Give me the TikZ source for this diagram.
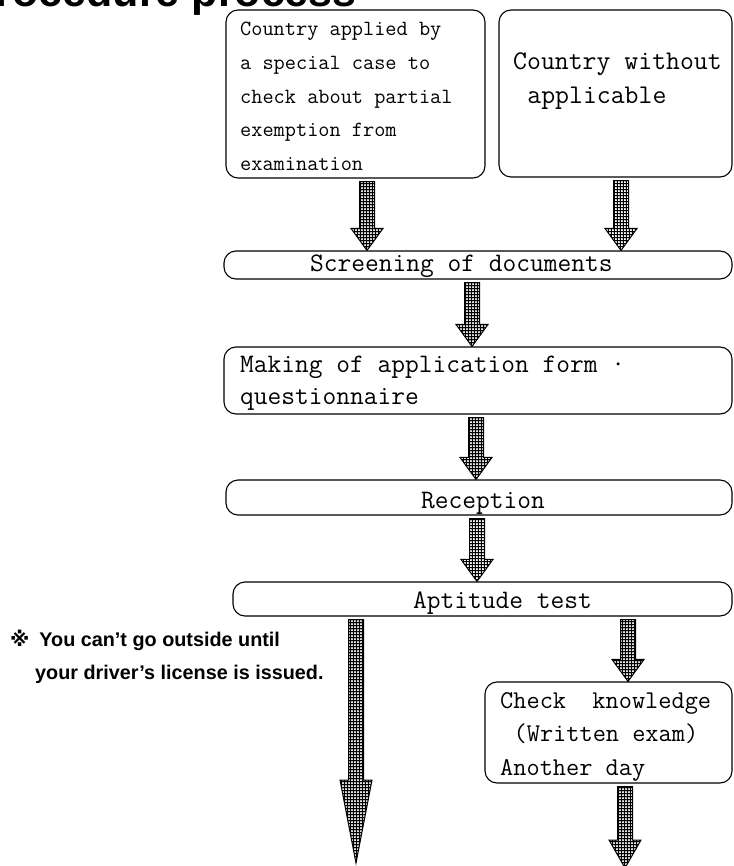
\documentclass[tikz,border=0pt]{standalone}
\usepackage{fontspec}
\newfontfamily\gothic{Liberation Sans}
\newfontfamily\refmark{DejaVu Sans}
\usetikzlibrary{calc,patterns.meta}

\tikzdeclarepattern{
	name=mesh,
	type=uncolored,
	bounding box={(0,0) and (3.4pt,3.4pt)},
	tile size={(3.4pt,3.4pt)},
	code={
		\draw[line width=1.2pt] (0pt,1.7pt) -- (3.4pt,1.7pt) (1.7pt,0pt) -- (1.7pt,3.4pt);
	}
}

\tikzset{
	box/.style={draw,line width=1.1pt,rounded corners=12pt,inner sep=0pt},
	boxtext/.style={inner sep=0pt,align=left,font=\ttfamily\fontsize{26.7}{33.5}\selectfont},
	blockarrow/.style={draw,line width=1pt,pattern=mesh,pattern color=black,
		to path={let \p1=(\tikztostart), \p2=(\tikztotarget) in
			(\x1-7.5pt,\y1-3pt) -- (\x1-7.5pt,\y2+#1) -- (\x1-16pt,\y2+#1) -- (\x1,\y2)
			-- (\x1+16pt,\y2+#1) -- (\x1+7.5pt,\y2+#1) -- (\x1+7.5pt,\y1-3pt) -- cycle}},
	blockarrow/.default=22pt
}

\begin{document}
\begin{tikzpicture}[x=1pt,y=-1pt]
	\useasboundingbox (0,0) rectangle (733,866);
	\clip (0,0) rectangle (733,866);

	% title, cut by the top edge
	\node[anchor=base west,inner sep=0pt,font=\gothic\bfseries\fontsize{43}{43}\selectfont] (title) at (-33,7) {Procedure process};

	% boxes
	\node[box,minimum width=259pt,minimum height=168pt] (cas) at (355.5,94) {};
	\node[box,minimum width=233pt,minimum height=167pt] (noapp) at (615.5,93.5) {};
	\node[box,minimum width=508pt,minimum height=28pt] (scr) at (478,265) {};
	\node[box,minimum width=508pt,minimum height=67pt] (mak) at (478,380.5) {};
	\node[box,minimum width=506pt,minimum height=35pt] (rec) at (479,497.5) {};
	\node[box,minimum width=499pt,minimum height=34pt] (apt) at (482.5,599) {};
	\node[box,minimum width=247pt,minimum height=101pt] (chk) at (608.5,732.5) {};

	% texts in the boxes
	\node[boxtext,anchor=north west,font=\ttfamily\fontsize{21.7}{33.75}\selectfont] (castext) at (240,22)
		{Country applied by\\a special case to\\check about partial\\exemption from\\examination};
	\node[boxtext,anchor=north west,font=\ttfamily\fontsize{27}{34}\selectfont] (noapptext) at (513,52)
		{Country without\\\hspace*{.525em}applicable};
	\node[boxtext,anchor=base west] (scrtext) at (310,272) {Screening of documents};
	\node[boxtext,anchor=north west,font=\ttfamily\fontsize{26.7}{32}\selectfont] (maktext) at (240,356)
		{Making of application form ·\\questionnaire};
	\node[boxtext,anchor=base west] (rectext) at (421,508) {Reception};
	\node[boxtext,anchor=base west] (apttext) at (413,608) {Aptitude test};
	\node[boxtext,anchor=north west,font=\ttfamily\fontsize{25.6}{33.5}\selectfont] (chktext) at (500,692)
		{Check\ \ knowledge\\\hspace*{.525em}(Written exam)\\Another day};

	% ends of the open arrows
	\coordinate (endl) at (356,863);
	\coordinate (endr) at (625,868);

	% arrows
	\draw[blockarrow] ([xshift=11.5pt]cas.south) to (scr.north);
	\draw[blockarrow] ([xshift=5.5pt]noapp.south) to (scr.north);
	\draw[blockarrow] ([xshift=-6pt]scr.south) to (mak.north);
	\draw[blockarrow] ([xshift=-2pt]mak.south) to (rec.north);
	\draw[blockarrow] ([xshift=-2pt]rec.south) to (apt.north);
	\draw[blockarrow=83pt] ([xshift=-126.5pt]apt.south) to (endl);
	\draw[blockarrow] ([xshift=145.5pt]apt.south) to (chk.north);
	\draw[blockarrow=28pt] ([xshift=16.5pt]chk.south) to (endr);

	% note
	\node[anchor=base west,inner sep=0pt,align=left,font=\gothic\bfseries\fontsize{19.8}{33}\selectfont] (note) at (10,679)
		{{\refmark ※}\hspace{10pt}You can’t go outside until\\\hspace*{25pt}your driver’s license is issued.};
\end{tikzpicture}
\end{document}
